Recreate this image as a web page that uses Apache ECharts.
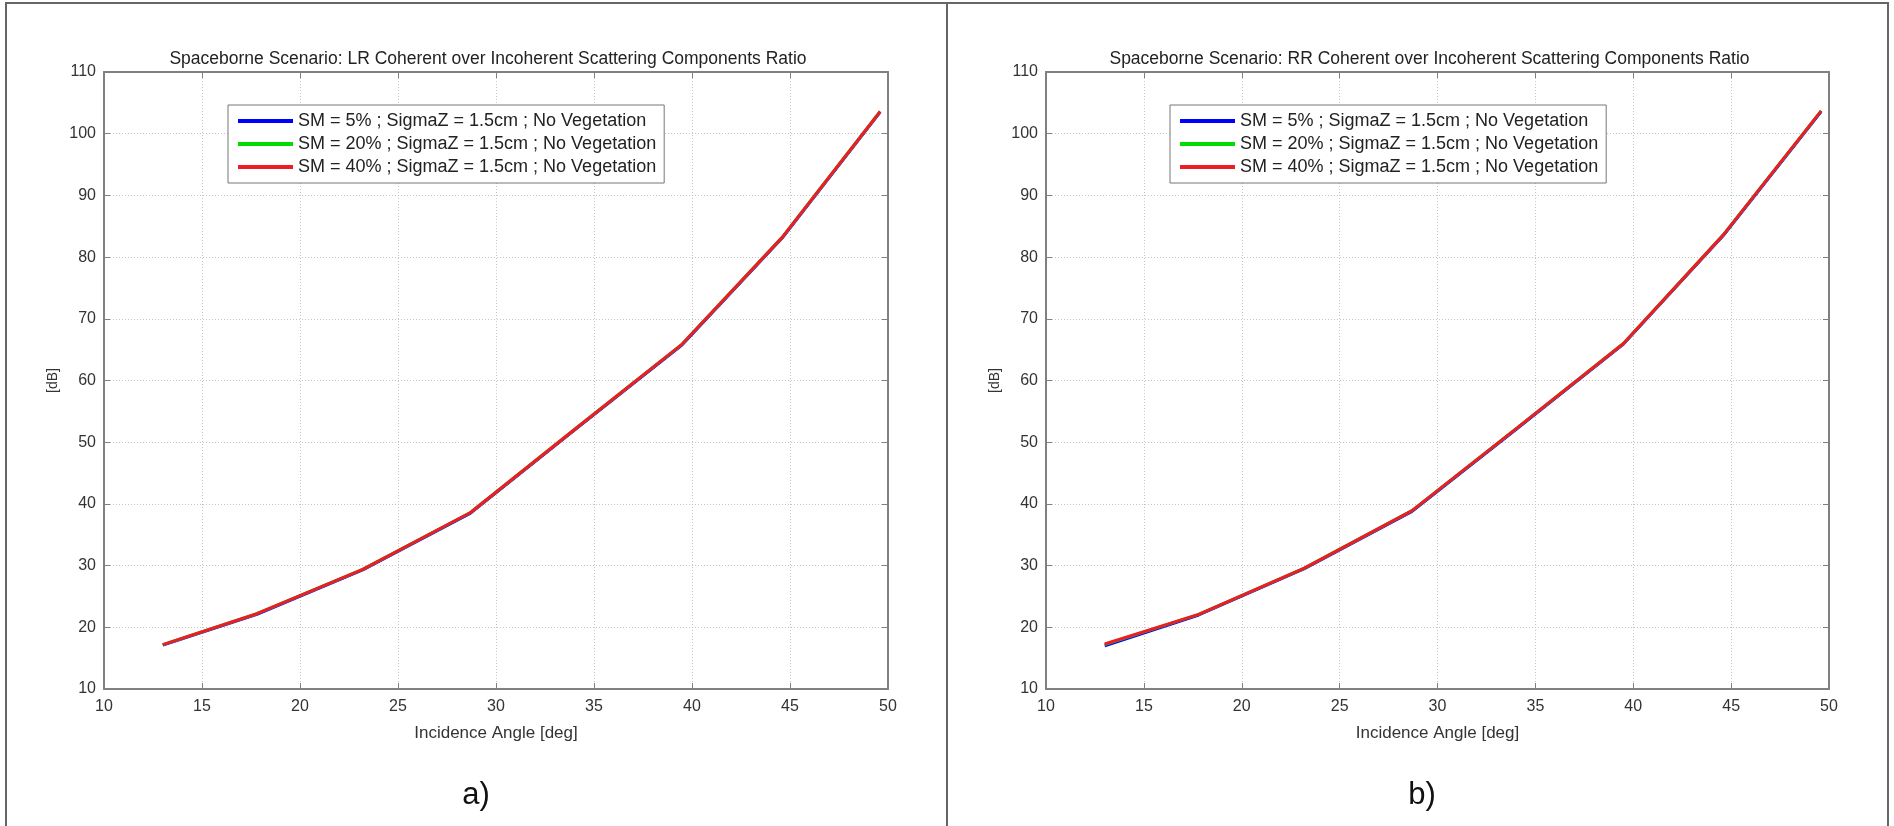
<!DOCTYPE html>
<html>
<head>
<meta charset="utf-8">
<script src="https://cdn.jsdelivr.net/npm/echarts@6/dist/echarts.min.js"></script>
<style>
html,body{margin:0;padding:0;background:#fff;}
#c{width:1894px;height:826px;}
</style>
</head>
<body>
<div id="c"></div>
<script>
// ---- data ----
const angles = [13, 17.8, 23.2, 28.7, 34.1, 39.5, 44.6, 49.6];
const lrSM5  = [17.1, 22.1, 29.3, 38.5, 52.2, 65.8, 83.1, 103.5];
const lrSM20 = [17.2, 22.2, 29.4, 38.6, 52.3, 65.9, 83.2, 103.6];
const lrSM40 = [17.2, 22.2, 29.4, 38.6, 52.3, 65.9, 83.2, 103.6];
const rrSM5  = [17.0, 22.0, 29.5, 38.8, 52.3, 65.9, 83.5, 103.6];
const rrSM20 = [17.2, 22.1, 29.6, 38.9, 52.4, 66.0, 83.6, 103.7];
const rrSM40 = [17.3, 22.1, 29.6, 38.9, 52.4, 66.0, 83.6, 103.7];
const seriesNames = [
  'SM = 5% ; SigmaZ = 1.5cm ; No Vegetation',
  'SM = 20% ; SigmaZ = 1.5cm ; No Vegetation',
  'SM = 40% ; SigmaZ = 1.5cm ; No Vegetation'
];
const seriesColors = ['#0000ff', '#00dd00', '#ee1c24'];
const titles = [
  'Spaceborne Scenario: LR Coherent over Incoherent Scattering Components Ratio',
  'Spaceborne Scenario: RR Coherent over Incoherent Scattering Components Ratio'
];
const panelLabels = ['a)', 'b)'];
const xName = 'Incidence Angle [deg]';
const yName = '[dB]';

const pair = (xs, ys) => xs.map((x, i) => [x, ys[i]]);
const panels = [[lrSM5, lrSM20, lrSM40], [rrSM5, rrSM20, rrSM40]];

const gridDefs = [
  {left: 104, top: 72, width: 784, height: 617},
  {left: 1046, top: 72, width: 783, height: 617}
];
const FONT = 'Liberation Sans, Arial, sans-serif';
const axisCol = '#808080';

const grid = [], xAxis = [], yAxis = [], series = [], legend = [], title = [];
gridDefs.forEach((g, p) => {
  grid.push(Object.assign({containLabel: false}, g));
  xAxis.push({
    type: 'value', gridIndex: p, min: 10, max: 50, interval: 5, position: 'bottom',
    name: xName, nameLocation: 'middle', nameGap: 36,
    nameTextStyle: {fontFamily: FONT, fontSize: 17, color: '#333'},
    axisLine: {show: true, onZero: false, lineStyle: {color: axisCol, width: 2}},
    axisTick: {show: true, inside: true, length: 6, lineStyle: {color: axisCol}},
    axisLabel: {fontFamily: FONT, fontSize: 16, color: '#333', margin: 10},
    splitLine: {show: true, lineStyle: {color: '#c4c4c4', type: [1, 2], width: 1}}
  });
  xAxis.push({
    type: 'value', gridIndex: p, min: 10, max: 50, interval: 5, position: 'top',
    axisLine: {show: true, onZero: false, lineStyle: {color: axisCol, width: 2}},
    axisTick: {show: true, inside: true, length: 6, lineStyle: {color: axisCol}},
    axisLabel: {show: false}, splitLine: {show: false}
  });
  yAxis.push({
    type: 'value', gridIndex: p, min: 10, max: 110, interval: 10, position: 'left',
    name: yName, nameLocation: 'middle', nameGap: 44, nameRotate: 90,
    nameTextStyle: {fontFamily: FONT, fontSize: 14, color: '#333'},
    axisLine: {show: true, onZero: false, lineStyle: {color: axisCol, width: 2}},
    axisTick: {show: true, inside: true, length: 6, lineStyle: {color: axisCol}},
    axisLabel: {fontFamily: FONT, fontSize: 16, color: '#333', margin: 8},
    splitLine: {show: true, lineStyle: {color: '#c4c4c4', type: [1, 2], width: 1}}
  });
  yAxis.push({
    type: 'value', gridIndex: p, min: 10, max: 110, interval: 10, position: 'right',
    axisLine: {show: true, onZero: false, lineStyle: {color: axisCol, width: 2}},
    axisTick: {show: true, inside: true, length: 6, lineStyle: {color: axisCol}},
    axisLabel: {show: false}, splitLine: {show: false}
  });
  panels[p].forEach((vals, s) => {
    series.push({
      type: 'line', name: seriesNames[s], xAxisIndex: p * 2, yAxisIndex: p * 2,
      data: pair(angles, vals), showSymbol: false, symbol: 'none',
      lineStyle: {color: seriesColors[s], width: 3}, itemStyle: {color: seriesColors[s]},
      z: 2 + s, animation: false
    });
  });
  legend.push({
    orient: 'vertical', left: g.left + 124, top: 105,
    data: seriesNames.map(n => ({name: n})),
    icon: 'rect', itemWidth: 55, itemHeight: 4, itemGap: 5,
    textStyle: {fontFamily: FONT, fontSize: 18, color: '#222'},
    backgroundColor: '#fff', borderColor: '#777', borderWidth: 1,
    padding: [7, 8, 7, 10], selectedMode: false
  });
  title.push({
    text: titles[p], left: g.left + g.width / 2 - 13, top: 45, textAlign: 'center',
    textStyle: {fontFamily: FONT, fontSize: 17.5, fontWeight: 'normal', color: '#222'}
  });
});

const chart = echarts.init(document.getElementById('c'), null, {renderer: 'canvas'});
chart.setOption({
  animation: false,
  backgroundColor: '#fff',
  title, grid, xAxis, yAxis, series, legend,
  graphic: [
    {type: 'rect', shape: {x: 6, y: 3, width: 941, height: 824}, style: {fill: 'none', stroke: '#666', lineWidth: 2}, z: -1},
    {type: 'rect', shape: {x: 947, y: 3, width: 941, height: 824}, style: {fill: 'none', stroke: '#666', lineWidth: 2}, z: -1},
    {type: 'text', x: 476, y: 795, style: {text: panelLabels[0], font: '31px ' + FONT, fill: '#111', textAlign: 'center', textVerticalAlign: 'middle'}},
    {type: 'text', x: 1422, y: 795, style: {text: panelLabels[1], font: '31px ' + FONT, fill: '#111', textAlign: 'center', textVerticalAlign: 'middle'}}
  ]
});
</script>
</body>
</html>
